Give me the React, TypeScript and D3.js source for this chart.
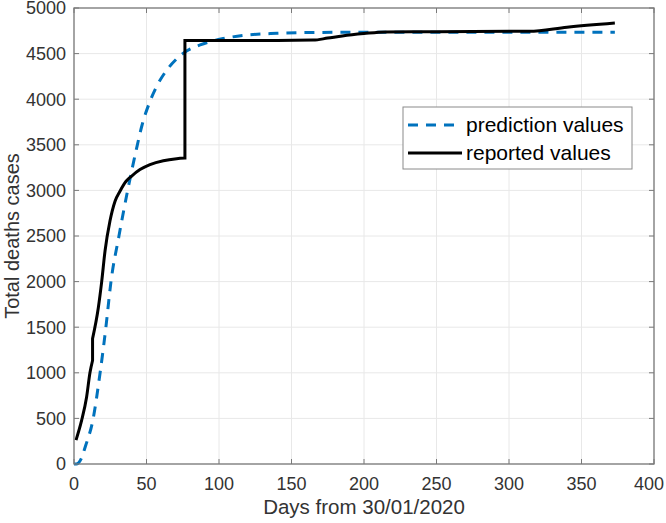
import React from "react";
import * as d3 from "d3";

const predDays = [0, 1.5, 5, 8, 13, 18, 22, 25.5, 31, 37, 43, 47, 52, 57, 64, 70, 75, 87, 103, 117, 140, 170, 220, 300, 373];
const predValues = [0, 0, 60, 200, 480, 1000, 1500, 2000, 2500, 3000, 3450, 3720, 3960, 4140, 4320, 4430, 4500, 4595, 4665, 4700, 4722, 4732, 4735, 4735, 4735];

const repDays = [1.4, 5.3, 8.7, 11, 12.8, 12.8, 16.8, 19.1, 21.4, 24.8, 28.3, 31.7, 35.9, 39.6, 45.5, 52.4, 61.6, 70.8, 76.5, 76.5, 100, 140, 165, 175, 185, 200, 215, 250, 314, 340, 373];
const repValues = [262, 480, 735, 1000, 1135, 1375, 1717, 2000, 2336, 2664, 2882, 2991, 3100, 3155, 3228, 3283, 3326, 3348, 3355, 4645, 4645, 4645, 4648, 4670, 4694, 4720, 4738, 4740, 4745, 4790, 4836];

const xTicks = [0, 50, 100, 150, 200, 250, 300, 350, 400];
const yTicks = [0, 500, 1000, 1500, 2000, 2500, 3000, 3500, 4000, 4500, 5000];

const seriesNames = ["prediction values", "reported values"];
const xLabel = "Days from 30/01/2020";
const yLabel = "Total deaths cases";

export default function App() {
  const W = 666, H = 523;
  const L = 74, R = 654, T = 8, B = 464;
  const x = d3.scaleLinear().domain([0, 400]).range([L, R]);
  const y = d3.scaleLinear().domain([0, 5000]).range([B, T]);
  const smooth = d3.line<[number, number]>().x(d => x(d[0])).y(d => y(d[1])).curve(d3.curveMonotoneX);
  const pred = predDays.map((d, i) => [d, predValues[i]] as [number, number]);
  const rep = repDays.map((d, i) => [d, repValues[i]] as [number, number]);
  const segs: [number, number][][] = [];
  let cur: [number, number][] = [];
  rep.forEach((p, i) => {
    if (i > 0 && p[0] === rep[i - 1][0]) {
      segs.push(cur);
      cur = [];
    }
    cur.push(p);
  });
  segs.push(cur);
  const repPath = segs
    .map((s, i) => {
      const d = smooth(s) || "";
      return i === 0 ? d : "L" + d.slice(1);
    })
    .join("");

  const font = "'Liberation Sans', Arial, Helvetica, sans-serif";
  const textCol = "#333";
  const axisCol = "#7a7a7a";
  const gridCol = "#e8e8e8";
  const blue = "#0072BD";
  const tickLen = 5;

  return (
    <svg width={W} height={H} style={{ position: "absolute", left: 0, top: 0, background: "#fff" }} fontFamily={font}>
      <rect x={0} y={0} width={W} height={H} fill="#fff" />
      {xTicks.map(t => (
        <line key={"gx" + t} x1={x(t)} x2={x(t)} y1={T} y2={B} stroke={gridCol} strokeWidth={1} />
      ))}
      {yTicks.map(t => (
        <line key={"gy" + t} x1={L} x2={R} y1={y(t)} y2={y(t)} stroke={gridCol} strokeWidth={1} />
      ))}
      {xTicks.map(t => (
        <g key={"tx" + t}>
          <line x1={x(t)} x2={x(t)} y1={B} y2={B - tickLen} stroke={axisCol} />
          <line x1={x(t)} x2={x(t)} y1={T} y2={T + tickLen} stroke={axisCol} />
          <text x={Math.min(x(t), W - 17)} y={490} textAnchor="middle" fontSize={18} fill={textCol}>{t}</text>
        </g>
      ))}
      {yTicks.map(t => (
        <g key={"ty" + t}>
          <line x1={L} x2={L + tickLen} y1={y(t)} y2={y(t)} stroke={axisCol} />
          <line x1={R} x2={R - tickLen} y1={y(t)} y2={y(t)} stroke={axisCol} />
          <text x={66} y={y(t)} dy="0.36em" textAnchor="end" fontSize={18} fill={textCol}>{t}</text>
        </g>
      ))}
      <path d={smooth(pred) || ""} fill="none" stroke={blue} strokeWidth={3} strokeDasharray="10,8" />
      <path d={repPath} fill="none" stroke="#000" strokeWidth={3} strokeLinejoin="miter" />
      <rect x={L} y={T} width={R - L} height={B - T} fill="none" stroke={axisCol} strokeWidth={1.3} />
      <text x={364} y={514} textAnchor="middle" fontSize={20.5} fill={textCol}>{xLabel}</text>
      <text transform={`translate(19,${(T + B) / 2}) rotate(-90)`} textAnchor="middle" fontSize={20} fill={textCol}>{yLabel}</text>
      <g>
        <rect x={403} y={107} width={229} height={62} fill="#fff" stroke="#8a8a8a" strokeWidth={1} />
        <line x1={408} x2={462} y1={125} y2={125} stroke={blue} strokeWidth={3} strokeDasharray="10,8" />
        <text x={466} y={125} dy="0.35em" fontSize={21} fill="#000">{seriesNames[0]}</text>
        <line x1={408} x2={462} y1={153} y2={153} stroke="#000" strokeWidth={3} />
        <text x={466} y={153} dy="0.35em" fontSize={21} fill="#000">{seriesNames[1]}</text>
      </g>
    </svg>
  );
}
